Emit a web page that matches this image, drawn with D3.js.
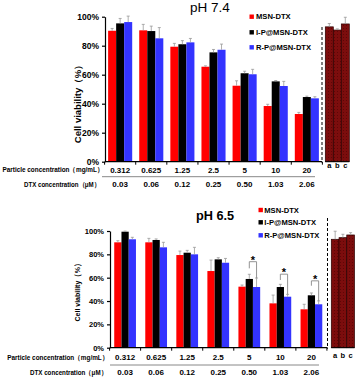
<!DOCTYPE html>
<html>
<head>
<meta charset="utf-8">
<script src="https://cdn.jsdelivr.net/npm/d3@7"></script>
<style>
  body { margin: 0; background: #fff; }
  svg { display: block; }
  text { font-family: Arial, "Liberation Sans", sans-serif; }
</style>
</head>
<body>
<svg id="chart" width="360" height="378"></svg>
<script>
//-----------------------------------------------------//
// Data

const particleConc = ["0.312", "0.625", "1.25", "2.5", "5", "10", "20"];
const dtxConc = ["0.03", "0.06", "0.12", "0.25", "0.50", "1.03", "2.06"];
const seriesNames = ["MSN-DTX", "I-P@MSN-DTX", "R-P@MSN-DTX"];
const seriesColors = ["#ff0000", "#000000", "#3333ff"];
const yTicks = [0, 20, 40, 60, 80, 100];
const controlLabels = ["a", "b", "c"];

// pH 7.4
const msn74 = [90.3, 90.6, 79.3, 65.5, 52.4, 38.4, 32.9];
const msn74Err = [1.6, 4.1, 2.3, 0.6, 3.4, 1.2, 1.1];
const ip74 = [95.4, 90.1, 81.0, 75.4, 61.0, 55.4, 44.6];
const ip74Err = [3.4, 3.4, 2.5, 2.0, 1.4, 0.6, 0.6];
const rp74 = [96.3, 85.1, 82.3, 77.2, 60.3, 52.2, 43.7];
const rp74Err = [4.1, 7.4, 2.7, 3.9, 3.4, 3.2, 1.1];
const ctrl74 = [93.0, 90.8, 95.0];
const ctrl74Err = [2.3, 0.8, 4.6];

// pH 6.5
const msn65 = [90.3, 90.3, 79.4, 65.7, 52.3, 38.0, 32.9];
const msn65Err = [1.4, 3.4, 3.4, 9.4, 1.4, 7.1, 4.3];
const ip65 = [99.4, 92.3, 81.4, 75.7, 58.9, 52.0, 44.9];
const ip65Err = [0.5, 0.9, 2.0, 1.4, 4.0, 2.3, 2.0];
const rp65 = [92.9, 86.0, 80.0, 72.8, 52.0, 43.7, 37.2];
const rp65Err = [1.7, 4.3, 6.0, 3.7, 7.7, 2.0, 2.9];
const ctrl65 = [92.9, 94.3, 96.6];
const ctrl65Err = [6.9, 2.9, 2.0];

// significance brackets (pH 6.5, I-P vs R-P)
const sigCats = ["5", "10", "20"];
const sigTop = [73.7, 63.0, 57.3];
const sigLeftEnd = [68.0, 58.0, 53.1];

//-----------------------------------------------------//

const svg = d3.select("#chart");

// dotted brown fill for the control bars
const pat = svg.append("defs").append("pattern")
  .attr("id", "dots")
  .attr("width", 3).attr("height", 3)
  .attr("patternUnits", "userSpaceOnUse");
pat.append("rect").attr("width", 3).attr("height", 3).attr("fill", "#7c0d0d");
pat.append("rect").attr("x", 1).attr("y", 1).attr("width", 1).attr("height", 1).attr("fill", "#5e0606");

function drawPanel(p)
{
  const g = svg.append("g");

  const x = d3.scaleBand().domain(particleConc)
    .range([p.left, p.right]).paddingInner(p.padIn).paddingOuter(p.padOut);
  const xs = d3.scaleBand().domain(seriesNames).range([0, x.bandwidth()]);
  const y = d3.scaleLinear().domain([0, 100]).range([p.y0, p.y100]);
  const xc = d3.scaleBand().domain(controlLabels).range([p.c0, p.c1]);

  // bars + error bars
  seriesNames.forEach((name, j) => {
    const rows = particleConc.map((c, i) => ({ c: c, v: p.means[j][i], e: p.errs[j][i] }));
    const sg = g.append("g");
    sg.selectAll("rect").data(rows).enter().append("rect")
      .attr("x", d => x(d.c) + xs(name))
      .attr("y", d => y(d.v))
      .attr("width", xs.bandwidth())
      .attr("height", d => y(0) - y(d.v))
      .attr("fill", seriesColors[j]);
    const cx = d => x(d.c) + xs(name) + xs.bandwidth() / 2;
    sg.selectAll(".err").data(rows).enter().append("line")
      .attr("x1", cx).attr("x2", cx)
      .attr("y1", d => y(d.v)).attr("y2", d => y(d.v + d.e))
      .attr("stroke", "#999").attr("stroke-width", 0.8);
    sg.selectAll(".cap").data(rows).enter().append("line")
      .attr("x1", d => cx(d) - 1.5).attr("x2", d => cx(d) + 1.5)
      .attr("y1", d => y(d.v + d.e)).attr("y2", d => y(d.v + d.e))
      .attr("stroke", "#999").attr("stroke-width", 0.8);
  });

  // control bars a, b, c
  const ctrl = controlLabels.map((l, i) => ({ l: l, v: p.ctrl[i], e: p.ctrlErr[i] }));
  g.selectAll(".ctrl").data(ctrl).enter().append("rect")
    .attr("x", d => xc(d.l))
    .attr("y", d => y(d.v))
    .attr("width", xc.bandwidth())
    .attr("height", d => y(0) - y(d.v))
    .attr("fill", "url(#dots)")
    .attr("stroke", "#2a0000").attr("stroke-width", 0.7);
  const ccx = d => xc(d.l) + xc.bandwidth() / 2;
  g.selectAll(".cerr").data(ctrl).enter().append("path")
    .attr("d", d => `M${ccx(d)},${y(d.v)}V${y(d.v + d.e)}M${ccx(d) - 1.5},${y(d.v + d.e)}h3`)
    .attr("stroke", "#999").attr("stroke-width", 0.8).attr("fill", "none");
  g.selectAll(".clab").data(controlLabels).enter().append("text")
    .attr("x", d => xc(d) + xc.bandwidth() / 2)
    .attr("y", p.abcY)
    .attr("dy", "0.35em")
    .attr("text-anchor", "middle")
    .attr("font-size", 7.5).attr("font-weight", "bold")
    .text(d => d);
  g.append("line")
    .attr("x1", p.c0).attr("x2", p.c1)
    .attr("y1", p.y0).attr("y2", p.y0)
    .attr("stroke", "#000").attr("stroke-width", 1);

  // dashed separator
  g.append("line")
    .attr("x1", p.dash).attr("x2", p.dash)
    .attr("y1", p.dashTop).attr("y2", p.y0 + 1)
    .attr("stroke", "#000").attr("stroke-width", 1)
    .attr("stroke-dasharray", "3,2");

  // y axis
  const yAxis = g.append("g")
    .attr("transform", `translate(${p.axisX},0)`)
    .call(d3.axisLeft(y).tickValues(yTicks).tickFormat(d => d + "%").tickSize(3).tickSizeOuter(0));
  yAxis.select(".domain").attr("stroke-width", 1.2);
  yAxis.selectAll("line").attr("stroke-width", 1.2);
  yAxis.selectAll("text")
    .attr("font-size", p.yTickSize).attr("font-weight", "bold")
    .attr("font-family", "Arial, 'Liberation Sans', sans-serif");

  // x axis with ticks between groups
  g.append("line")
    .attr("x1", p.axisX).attr("x2", p.dash)
    .attr("y1", p.y0).attr("y2", p.y0)
    .attr("stroke", "#000").attr("stroke-width", 1.2);
  const half = x.step() * x.paddingInner() / 2;
  const bounds = particleConc.map(c => x(c) - half).concat([x(particleConc[particleConc.length - 1]) + x.bandwidth() + half]);
  g.selectAll(".xt").data(bounds).enter().append("line")
    .attr("x1", d => d).attr("x2", d => d)
    .attr("y1", p.y0).attr("y2", p.y0 + 3)
    .attr("stroke", "#000").attr("stroke-width", 1);

  // category rows
  g.selectAll(".pc").data(particleConc).enter().append("text")
    .attr("x", d => x(d) + x.bandwidth() / 2)
    .attr("y", p.row1).attr("dy", "0.35em")
    .attr("text-anchor", "middle")
    .attr("font-size", 8).attr("font-weight", "bold")
    .text(d => d);
  g.selectAll(".dc").data(dtxConc).enter().append("text")
    .attr("x", (d, i) => x(particleConc[i]) + x.bandwidth() / 2)
    .attr("y", p.row2).attr("dy", "0.35em")
    .attr("text-anchor", "middle")
    .attr("font-size", 8).attr("font-weight", "bold")
    .text(d => d);
  g.append("line")
    .attr("x1", p.sepX0).attr("x2", p.sepX1)
    .attr("y1", p.sepY).attr("y2", p.sepY)
    .attr("stroke", "#888").attr("stroke-width", 1);

  g.append("text")
    .attr("x", p.lab1End - p.lab1W).attr("y", p.row1).attr("dy", "0.35em")
    .attr("textLength", p.lab1W).attr("lengthAdjust", "spacingAndGlyphs")
    .attr("font-size", 6.8).attr("font-weight", "bold")
    .text("Particle concentration（mg/mL）");
  g.append("text")
    .attr("x", p.lab2End - p.lab2W).attr("y", p.row2).attr("dy", "0.35em")
    .attr("textLength", p.lab2W).attr("lengthAdjust", "spacingAndGlyphs")
    .attr("font-size", 6.8).attr("font-weight", "bold")
    .text("DTX concentration（μM）");

  // y title
  g.append("text")
    .attr("transform", `translate(${p.ytX},${p.ytY}) rotate(-90)`)
    .attr("x", -p.ytW / 2)
    .attr("dy", "0.35em")
    .attr("textLength", p.ytW).attr("lengthAdjust", "spacingAndGlyphs")
    .attr("font-size", p.ytSize).attr("font-weight", "bold")
    .text("Cell viability（%）");

  // title
  g.append("text")
    .attr("x", p.titleX).attr("y", p.titleY)
    .attr("font-size", p.titleSize).attr("font-weight", p.titleWeight)
    .text(p.title);

  // legend
  seriesNames.forEach((name, j) => {
    g.append("rect")
      .attr("x", p.legX).attr("y", p.legRows[j] - 2.2)
      .attr("width", 4.4).attr("height", 4.4)
      .attr("fill", seriesColors[j]);
    g.append("text")
      .attr("x", p.legTextX).attr("y", p.legRows[j]).attr("dy", "0.35em")
      .attr("font-size", 7.6).attr("font-weight", "bold")
      .text(name);
  });

  // significance brackets
  if (p.sig)
  {
    p.sig.cats.forEach((c, k) => {
      const i = particleConc.indexOf(c);
      const bx1 = x(c) + xs(seriesNames[1]) + xs.bandwidth() / 2;
      const bx2 = x(c) + xs(seriesNames[2]) + xs.bandwidth() / 2;
      const rightEnd = p.means[2][i] + p.errs[2][i];
      g.append("path")
        .attr("d", `M${bx1},${y(p.sig.left[k])}V${y(p.sig.top[k])}H${bx2}V${y(rightEnd)}`)
        .attr("fill", "none").attr("stroke", "#888").attr("stroke-width", 0.9);
      g.append("text")
        .attr("x", (bx1 + bx2) / 2).attr("y", y(p.sig.top[k]) + 2)
        .attr("text-anchor", "middle")
        .attr("font-size", 11).attr("font-weight", "bold")
        .text("*");
    });
  }
}

drawPanel({
  title: "pH 7.4", titleX: 190, titleY: 12, titleSize: 13.5, titleWeight: "normal",
  means: [msn74, ip74, rp74], errs: [msn74Err, ip74Err, rp74Err],
  ctrl: ctrl74, ctrlErr: ctrl74Err,
  axisX: 105, left: 105, right: 322, padIn: 0.226, padOut: 0.1,
  y0: 161.7, y100: 16.7, dash: 322, dashTop: 27, c0: 325.3, c1: 349.3,
  row1: 170, row2: 184.3, abcY: 165.7, sepY: 176.7, sepX0: 102, sepX1: 315,
  lab1End: 103.5, lab1W: 101, lab2End: 100, lab2W: 76,
  ytX: 78, ytY: 101.7, ytSize: 9, ytW: 83, yTickSize: 8.5,
  legX: 249.5, legTextX: 256, legRows: [16.7, 32.3, 47.3]
});

drawPanel({
  title: "pH 6.5", titleX: 196, titleY: 219.5, titleSize: 12.7, titleWeight: "bold",
  means: [msn65, ip65, rp65], errs: [msn65Err, ip65Err, rp65Err],
  ctrl: ctrl65, ctrlErr: ctrl65Err,
  axisX: 110, left: 110.5, right: 326, padIn: 0.3, padOut: 0.12,
  y0: 347.7, y100: 231, dash: 327.5, dashTop: 218, c0: 331.3, c1: 354.5,
  row1: 357.5, row2: 372.3, abcY: 355, sepY: 365, sepX0: 110, sepX1: 319,
  lab1End: 108.3, lab1W: 101, lab2End: 107, lab2W: 77,
  ytX: 77.3, ytY: 290.5, ytSize: 7.5, ytW: 62, yTickSize: 7.5,
  legX: 258.5, legTextX: 264.3, legRows: [210, 222.3, 235.3],
  sig: { cats: sigCats, top: sigTop, left: sigLeftEnd }
});
</script>
</body>
</html>
